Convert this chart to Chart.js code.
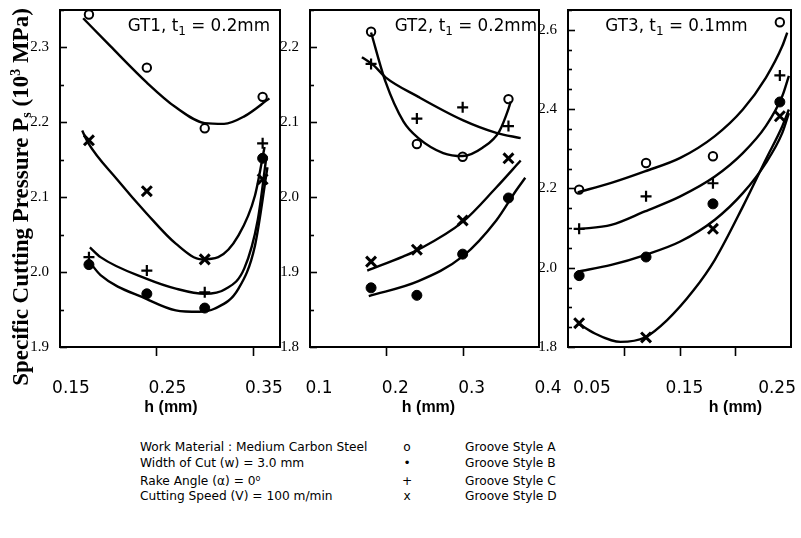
<!DOCTYPE html>
<html><head><meta charset="utf-8">
<script src="https://cdn.jsdelivr.net/npm/chart.js@4.4.0/dist/chart.umd.min.js"></script>
<style>
html,body{margin:0;padding:0;background:#fff;}
body{width:801px;height:538px;position:relative;overflow:hidden;font-family:"DejaVu Sans",sans-serif;}
canvas{position:absolute;top:0;}
.lg{position:absolute;font-size:12.2px;line-height:16px;color:#000;white-space:nowrap;}
.sym{text-align:center;width:20px;}
sup{font-size:8px;vertical-align:top;position:relative;top:-2px;}
</style></head><body>
<canvas id="c1" width="290" height="420" style="left:0px;width:290px;height:420px"></canvas>
<canvas id="c2" width="285" height="420" style="left:280px;width:285px;height:420px"></canvas>
<canvas id="c3" width="266" height="420" style="left:535px;width:266px;height:420px"></canvas>
<div id="legend"></div>
<script>
// ---------- data ----------
const hPoints12 = [0.18, 0.24, 0.30, 0.36];
const hPoints3 = [0.06, 0.12, 0.18, 0.24];

// GT1 measured points
const gt1A = [2.344, 2.273, 2.192, 2.234];
const gt1B = [2.010, 1.971, 1.952, 2.152];
const gt1C = [2.020, 2.002, 1.973, 2.172];
const gt1D = [2.176, 2.108, 2.017, 2.124];
// GT1 fitted curves [h, Ps]
const gt1CurveA = [[0.174,2.339],[0.202,2.302],[0.240,2.253],[0.270,2.220],[0.300,2.199],[0.320,2.198],[0.341,2.208],[0.367,2.232]];
const gt1CurveB = [[0.181,2.013],[0.192,1.996],[0.240,1.964],[0.270,1.949],[0.294,1.947],[0.310,1.951],[0.335,1.978],[0.352,2.035],[0.365,2.140]];
const gt1CurveC = [[0.181,2.033],[0.192,2.020],[0.240,1.991],[0.270,1.978],[0.300,1.971],[0.321,1.977],[0.341,2.005],[0.355,2.070],[0.364,2.155]];
const gt1CurveD = [[0.173,2.189],[0.179,2.173],[0.209,2.124],[0.240,2.078],[0.270,2.038],[0.297,2.017],[0.314,2.020],[0.335,2.049],[0.352,2.102],[0.362,2.167]];

// GT2 measured points
const gt2A = [2.221, 2.071, 2.054, 2.131];
const gt2B = [1.879, 1.869, 1.924, 1.999];
const gt2C = [2.178, 2.105, 2.120, 2.095];
const gt2D = [1.914, 1.930, 1.969, 2.052];
const gt2CurveA = [[0.180,2.220],[0.199,2.154],[0.2225,2.101],[0.242,2.079],[0.2745,2.059],[0.300,2.055],[0.326,2.066],[0.348,2.088],[0.360,2.118],[0.363,2.128]];
const gt2CurveB = [[0.177,1.868],[0.242,1.888],[0.300,1.921],[0.344,1.969],[0.370,2.009],[0.382,2.026]];
const gt2CurveC = [[0.168,2.187],[0.1835,2.176],[0.199,2.160],[0.242,2.134],[0.300,2.103],[0.344,2.086],[0.376,2.079]];
const gt2CurveD = [[0.175,1.902],[0.2225,1.921],[0.242,1.930],[0.300,1.967],[0.344,2.013],[0.376,2.049]];

// GT3 measured points
const gt3A = [2.197, 2.264, 2.281, 2.619];
const gt3B = [1.980, 2.027, 2.161, 2.418];
const gt3C = [2.098, 2.180, 2.213, 2.485];
const gt3D = [1.860, 1.824, 2.098, 2.382];
const gt3CurveA = [[0.0587,2.190],[0.0888,2.214],[0.1189,2.243],[0.1507,2.277],[0.1817,2.332],[0.2068,2.399],[0.2274,2.479],[0.2422,2.559],[0.2466,2.593]];
const gt3CurveB = [[0.0587,1.990],[0.0888,2.007],[0.1189,2.032],[0.1507,2.066],[0.1817,2.121],[0.2068,2.188],[0.2274,2.264],[0.2422,2.340],[0.2481,2.390]];
const gt3CurveC = [[0.0587,2.097],[0.0888,2.108],[0.1189,2.142],[0.1507,2.180],[0.1817,2.230],[0.2068,2.289],[0.2274,2.357],[0.2422,2.433],[0.2481,2.484]];
const gt3CurveD = [[0.0587,1.860],[0.0741,1.834],[0.0888,1.817],[0.0970,1.813],[0.1189,1.824],[0.1389,1.868],[0.1626,1.943],[0.1817,2.020],[0.2068,2.154],[0.2274,2.273],[0.2422,2.357],[0.2481,2.399]];

// tick labels
const gt1XLabels = ['0.15','0.25','0.35'];
const gt2XLabels = ['0.1','0.2','0.3','0.4'];
const gt3XLabels = ['0.05','0.15','0.25'];
const gt1XMarks = [0.25, 0.35];
const gt2XMarks = [0.2, 0.3];
const gt3XMarks = [0.1, 0.15, 0.2];
const gt1YLabels = ['1.9','2.0','2.1','2.2','2.3'];
const gt2YLabels = ['1.8','1.9','2.0','2.1','2.2'];
const gt3YLabels = ['1.8','2.0','2.2','2.4','2.6'];

const panelNames = ['GT1','GT2','GT3'];
const panelT1 = ['0.2mm','0.2mm','0.1mm'];
const xTitle = 'h (mm)';
const yTitleParts = ['Specific Cutting Pressure P','s',' (10','3',' MPa)'];

const legendConditions = ['Work Material : Medium Carbon Steel','Width of Cut (w) = 3.0 mm','Rake Angle (\u03B1) = 0<sup>o</sup>','Cutting Speed (V) = 100 m/min'];
const legendSymbols = ['o','\u2022','+','x'];
const legendStyles = ['Groove Style A','Groove Style B','Groove Style C','Groove Style D'];

// ---------- drawing ----------
const SANS = '"DejaVu Sans", sans-serif';
const SERIF = '"Liberation Serif", "Times New Roman", serif';

function drawRich(ctx, parts, x, y, align){
  let total = 0;
  parts.forEach(p=>{ctx.font=p.f; p.w=ctx.measureText(p.t).width; total+=p.w;});
  let cx = align==='right' ? x-total : align==='center' ? x-total/2 : x;
  ctx.textAlign='left'; ctx.textBaseline='alphabetic';
  parts.forEach(p=>{ctx.font=p.f; ctx.fillText(p.t, cx, y+p.dy); cx+=p.w;});
}

const framePlugin = {
  id:'frame',
  afterDraw(chart, args, o){
    const {ctx, chartArea:a} = chart;
    const x = chart.scales.x, y = chart.scales.y;
    ctx.save();
    ctx.strokeStyle='#000'; ctx.fillStyle='#000';
    ctx.lineWidth=2;
    ctx.strokeRect(a.left, a.top, a.right-a.left, a.bottom-a.top);
    ctx.lineWidth=1.6;
    y.ticks.forEach(t=>{
      const py = Math.round(y.getPixelForValue(t.value))+0.5;
      const len = t.label ? 7 : 4;
      ctx.beginPath(); ctx.moveTo(a.left, py); ctx.lineTo(a.left+len, py); ctx.stroke();
    });
    o.xMarks.forEach(v=>{
      const px = Math.round(x.getPixelForValue(v))+0.5;
      ctx.beginPath(); ctx.moveTo(px, a.bottom); ctx.lineTo(px, a.bottom+9); ctx.stroke();
    });
    // panel title
    const tparts = [{t:o.name+', t', f:'16.8px '+SANS, dy:0},{t:'1', f:'12px '+SANS, dy:4},{t:' = '+o.t1, f:'16.8px '+SANS, dy:0}];
    let tx;
    if (o.titleAlign==='right') tx = a.right - o.titleInset;
    else tx = (a.left+a.right)/2 + o.titleInset;
    drawRich(ctx, tparts, tx, a.top+21, o.titleAlign);
    // x title
    ctx.font='bold 16px "Liberation Sans", Arial, sans-serif'; ctx.textAlign='center'; ctx.textBaseline='alphabetic';
    ctx.fillText(xTitle, (a.left+a.right)/2 + o.xTitleDx, 412);
    // y title
    if (o.yTitle){
      ctx.save();
      ctx.translate(28, 197);
      ctx.rotate(-Math.PI/2);
      const big='bold 23px '+SERIF, small='bold 14px '+SERIF;
      drawRich(ctx, [
        {t:yTitleParts[0], f:big, dy:0},{t:yTitleParts[1], f:small, dy:3},
        {t:yTitleParts[2], f:big, dy:0},{t:yTitleParts[3], f:small, dy:-8},
        {t:yTitleParts[4], f:big, dy:0}], 0, 0, 'center');
      ctx.restore();
    }
    ctx.restore();
  }
};

const styleA = {pointStyle:'circle', pointRadius:4.2, pointBorderWidth:2, pointBorderColor:'#000', pointBackgroundColor:'#fff'};
const styleB = {pointStyle:'circle', pointRadius:5, pointBorderWidth:1, pointBorderColor:'#000', pointBackgroundColor:'#000'};
const styleC = {pointStyle:'cross', pointRadius:5.5, pointBorderWidth:2.2, pointBorderColor:'#000'};
const styleD = {pointStyle:'crossRot', pointRadius:7, pointBorderWidth:3, pointBorderColor:'#000'};

function curveDs(pts){
  return {data:pts.map(p=>({x:p[0],y:p[1]})), showLine:true, pointRadius:0, pointHoverRadius:0,
    borderColor:'#000', borderWidth:2.4, cubicInterpolationMode:'monotone', tension:0.4, fill:false};
}
function ptsDs(h, vals, st){
  return Object.assign({data:h.map((x,i)=>({x:x,y:vals[i]})), showLine:false}, st);
}

function makeChart(id, c){
  const near = (a,b)=>Math.abs(a-b)<1e-6;
  return new Chart(document.getElementById(id), {
    type:'scatter',
    data:{datasets:[
      curveDs(c.curves[0]), curveDs(c.curves[1]), curveDs(c.curves[2]), curveDs(c.curves[3]),
      ptsDs(c.h, c.pts[0], styleA), ptsDs(c.h, c.pts[1], styleB),
      ptsDs(c.h, c.pts[2], styleC), ptsDs(c.h, c.pts[3], styleD)
    ]},
    options:{
      responsive:false, animation:false, devicePixelRatio:1, events:[],
      layout:{padding:{left:0, right:c.padRight, top:7, bottom:0}},
      plugins:{legend:{display:false}, tooltip:{enabled:false},
        frame:{xMarks:c.xMarks, name:c.name, t1:c.t1, titleAlign:c.titleAlign, titleInset:c.titleInset, xTitleDx:c.xTitleDx, yTitle:c.yTitle}},
      scales:{
        x:{type:'linear', min:c.xmin, max:c.xmax,
          grid:{display:false}, border:{display:false},
          afterBuildTicks:s=>{ s.ticks = c.xLabels.map(l=>({value:parseFloat(l)})); },
          afterFit:s=>{ s.height=73; s.paddingLeft=0; s.paddingRight=0; },
          ticks:{autoSkip:false, maxRotation:0, minRotation:0, padding:23, labelOffset:c.labelOffset, align:c.xAlign,
            color:'#000', font:{family:SANS, size:17},
            callback:(v)=>{ const l=c.xLabels.find(l=>near(parseFloat(l),v)); return l===undefined?'':l; }}},
        y:{type:'linear', min:c.ymin, max:c.ymax,
          grid:{display:false}, border:{display:false},
          afterBuildTicks:s=>{ const t=[]; for(let k=0;;k++){ const v=+(c.ymin+k*0.05).toFixed(4); if(v>c.ymax+1e-9) break; t.push({value:v}); } s.ticks=t; },
          afterFit:s=>{ s.width=c.yWidth; s.paddingTop=0; s.paddingBottom=0; },
          ticks:{autoSkip:false, padding:3, color:'#000', font:{family:SERIF, size:15},
            callback:(v)=>{ const l=c.yLabels.find(l=>near(parseFloat(l),v)); return l===undefined?'':l; }}}
      }
    },
    plugins:[framePlugin]
  });
}

makeChart('c1', {h:hPoints12, pts:[gt1A,gt1B,gt1C,gt1D], curves:[gt1CurveA,gt1CurveB,gt1CurveC,gt1CurveD],
  xmin:0.15, xmax:0.378, ymin:1.9, ymax:2.35, xLabels:gt1XLabels, yLabels:gt1YLabels, xMarks:gt1XMarks,
  yWidth:60, padRight:7, labelOffset:11, xAlign:'center', name:panelNames[0], t1:panelT1[0],
  titleAlign:'right', titleInset:10, xTitleDx:1, yTitle:true});
makeChart('c2', {h:hPoints12, pts:[gt2A,gt2B,gt2C,gt2D], curves:[gt2CurveA,gt2CurveB,gt2CurveC,gt2CurveD],
  xmin:0.1, xmax:0.4, ymin:1.8, ymax:2.25, xLabels:gt2XLabels, yLabels:gt2YLabels, xMarks:gt2XMarks,
  yWidth:30, padRight:26, labelOffset:9, xAlign:'center', name:panelNames[1], t1:panelT1[1],
  titleAlign:'right', titleInset:2, xTitleDx:4, yTitle:false});
makeChart('c3', {h:hPoints3, pts:[gt3A,gt3B,gt3C,gt3D], curves:[gt3CurveA,gt3CurveB,gt3CurveC,gt3CurveD],
  xmin:0.05, xmax:0.25, ymin:1.8, ymax:2.65, xLabels:gt3XLabels, yLabels:gt3YLabels, xMarks:gt3XMarks,
  yWidth:33, padRight:5, labelOffset:5, xAlign:'inner', name:panelNames[2], t1:panelT1[2],
  titleAlign:'center', titleInset:-3, xTitleDx:56, yTitle:false});

// legend (text)
const lg = document.getElementById('legend');
const rowTops = [439, 455, 473, 488];
legendConditions.forEach((txt,i)=>{
  const a=document.createElement('div'); a.className='lg'; a.style.left='140px'; a.style.top=rowTops[i]+'px'; a.innerHTML=txt; lg.appendChild(a);
  const b=document.createElement('div'); b.className='lg sym'; b.style.left='397px'; b.style.top=rowTops[i]+'px'; b.textContent=legendSymbols[i]; lg.appendChild(b);
  const d=document.createElement('div'); d.className='lg'; d.style.left='465px'; d.style.top=rowTops[i]+'px'; d.textContent=legendStyles[i]; lg.appendChild(d);
});
</script>
</body></html>
